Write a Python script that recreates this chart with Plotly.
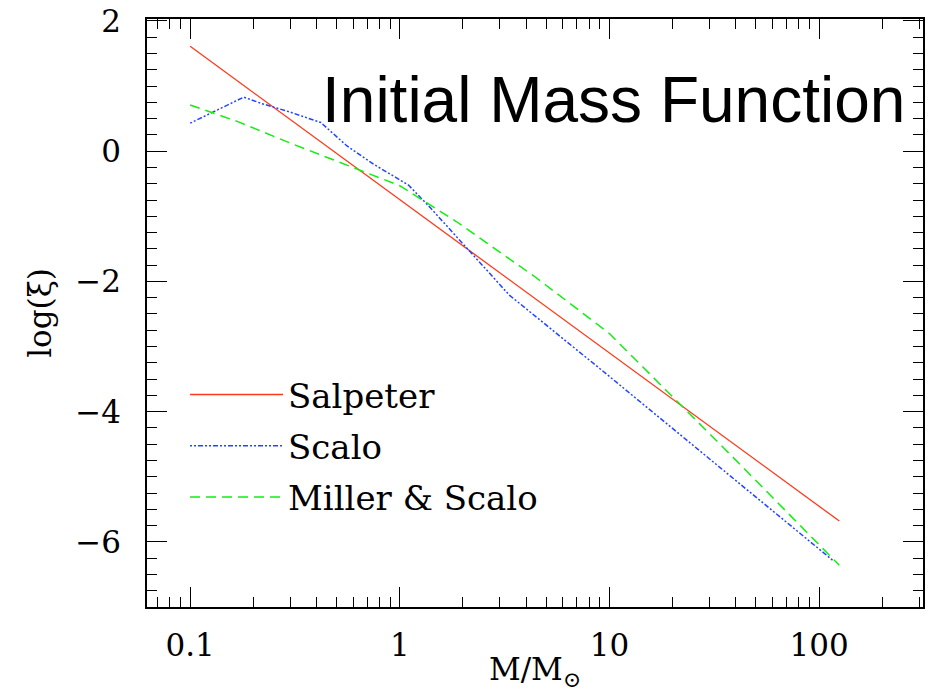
import plotly.graph_objects as go

# ---- data ----
salpeter_m = [0.1, 1.0, 125]
salpeter_y = [1.61, -0.74, -5.68]

scalo_m = [0.1, 0.18, 0.22, 0.30, 0.42, 0.56, 0.75, 1.1, 1.4, 2.07, 3.33, 9.25, 118]
scalo_y = [0.43, 0.83, 0.73, 0.60, 0.44, 0.08, -0.20, -0.52, -0.87, -1.48, -2.21, -3.37, -6.30]

ms_m = [0.1, 0.17, 0.30, 0.55, 1.0, 1.86, 4.46, 10.0, 20.7, 35.7, 125]
ms_y = [0.71, 0.45, 0.125, -0.20, -0.53, -1.08, -1.94, -2.80, -3.82, -4.58, -6.36]

names = ["Salpeter", "Scalo", "Miller & Scalo"]
x_ticks = [0.1, 1, 10, 100]
x_ticktext = ["0.1", "1", "10", "100"]
y_ticks = [2, 0, -2, -4, -6]
x_minor = [m * 10 ** e for e in range(-2, 3) for m in range(2, 10)]

title_text = "Initial Mass Function"
x_title = "M/M<sub>⊙</sub>"
y_title = "log(ξ)"

serif = "DejaVu Serif"

fig = go.Figure()
fig.add_trace(go.Scatter(x=salpeter_m, y=salpeter_y, mode="lines", name=names[0],
                         legendgroup="a",
                         line=dict(color="#ff3a1a", width=1.3)))
fig.add_trace(go.Scatter(x=scalo_m, y=scalo_y, mode="lines", name=names[1],
                         legendgroup="b",
                         line=dict(color="#2244ff", width=1.5, dash="2px,2px,2px,2px,5px,2px")))
fig.add_trace(go.Scatter(x=ms_m, y=ms_y, mode="lines", name=names[2],
                         legendgroup="c",
                         line=dict(color="#11ee11", width=1.5, dash="10px,6px")))

axis_common = dict(showline=True, linecolor="black", linewidth=1.5, mirror="allticks",
                   ticks="inside", ticklen=20, tickwidth=1.3, tickcolor="black",
                   showgrid=False, zeroline=False,
                   tickfont=dict(family=serif, size=31, color="black"))

fig.update_xaxes(type="log", range=[-1.206, 2.496], tickvals=x_ticks, ticktext=x_ticktext,
                 minor=dict(tickmode="array", tickvals=x_minor, ticks="inside", ticklen=10,
                            tickwidth=1.3, tickcolor="black", showgrid=False),
                 ticklabelstandoff=10,
                 title=dict(text=x_title, font=dict(family=serif, size=31, color="black"),
                            standoff=4),
                 **axis_common)
fig.update_yaxes(range=[-7, 2.03], tickvals=y_ticks,
                 minor=dict(dtick=0.25, ticks="inside", ticklen=10, tickwidth=1.3,
                            tickcolor="black", showgrid=False),
                 ticklabelstandoff=18,
                 title=dict(text=y_title, font=dict(family=serif, size=31, color="black"),
                            standoff=14),
                 **axis_common)

fig.add_annotation(text=title_text, xref="paper", yref="paper", x=0.98, y=0.862,
                   xanchor="right", yanchor="middle", showarrow=False,
                   font=dict(family="Liberation Sans", size=64, color="black"))

fig.update_layout(
    width=928, height=692,
    margin=dict(l=147, r=3, t=19, b=75),
    paper_bgcolor="white", plot_bgcolor="white",
    showlegend=True,
    legend=dict(x=0.049, y=0.41, xanchor="left", yanchor="top",
                bgcolor="rgba(0,0,0,0)", borderwidth=0,
                font=dict(family=serif, size=34, color="black"),
                itemwidth=93, traceorder="grouped", tracegroupgap=4),
)

fig.write_html("out.html")
